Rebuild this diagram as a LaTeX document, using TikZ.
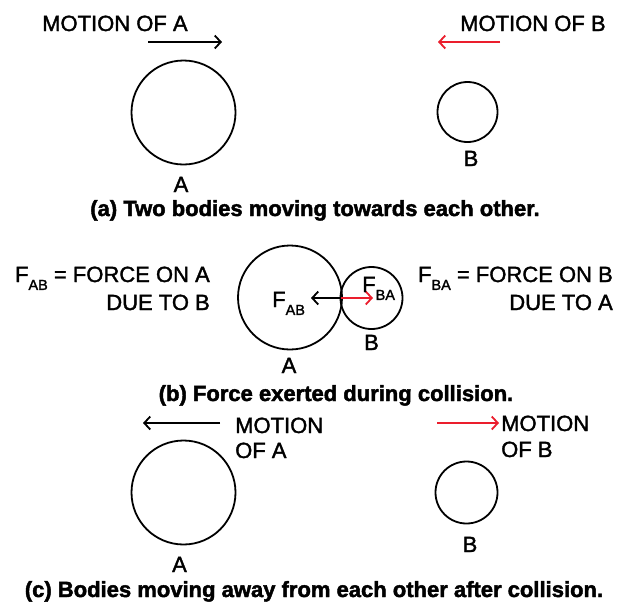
\documentclass[tikz,border=0pt]{standalone}
\usepackage{fontspec}
\setmainfont{Liberation Sans}
\newfontfamily\lblfont{Liberation Sans}[FakeBold=1.6]
\newfontfamily\capfont{Liberation Sans}[BoldFeatures={FakeBold=2}]
\usetikzlibrary{arrows.meta,shapes.geometric}
\definecolor{arrred}{RGB}{235,30,45}
\newcommand{\sbs}[1]{\raisebox{-0.36em}{\fontsize{14.5}{14.5}\selectfont #1}}
\begin{document}
\begin{tikzpicture}[x=1pt,y=-1pt,
  lbl/.style={font=\lblfont\fontsize{22}{26}\selectfont, inner sep=0},
  captxt/.style={font=\capfont\bfseries\fontsize{22}{26}\selectfont, inner sep=0},
  body/.style={draw, line width=1.8pt, circle, inner sep=0},
  mot/.style={line width=1.8pt, -{Straight Barb[length=6pt,width=13pt,line width=1.8pt]}},
  redmot/.style={mot, draw=arrred}]
\useasboundingbox[fill=white] (0,0) rectangle (629,603);

% ---------- panel (a)
\node[lbl, anchor=base west] (tma) at (42,31) {MOTION OF A};
\node[lbl, anchor=base west] (tmb) at (460,31) {MOTION OF B};
\coordinate (a1s) at (148,42);
\coordinate (a1e) at (222,42);
\draw[mot] (a1s) -- (a1e);
\coordinate (b1s) at (500,42);
\coordinate (b1e) at (438,42);
\draw[redmot] (b1s) -- (b1e);
\node[body, minimum size=104pt] (A1) at (183.5,112.5) {};
\node[body, minimum size=60pt] (B1) at (467.5,112) {};
\node[lbl, anchor=base] (la1) at (181,192) {A};
\node[lbl, anchor=base] (lb1) at (471,166) {B};
\node[captxt, anchor=base] (ca) at (315,216) {(a) Two bodies moving towards each other.};

% ---------- panel (b)
\node[lbl, anchor=base east] (fab1) at (210,282) {F\sbs{AB} = FORCE ON A};
\node[lbl, anchor=base east] (fab2) at (210,310) {DUE TO B};
\node[lbl, anchor=base east] (fba1) at (613,282) {F\sbs{BA} = FORCE ON B};
\node[lbl, anchor=base east] (fba2) at (613,310) {DUE TO A};
\node[body, minimum size=104pt] (A2) at (290,297.5) {};
\node[body, minimum size=62pt] (B2) at (371.5,298) {};
\coordinate (c2) at (341,298);
\coordinate (c2l) at (311,298);
\coordinate (c2r) at (373,298);
\draw[mot] (c2) -- (c2l);
\draw[redmot] (c2) -- (c2r);
\node[lbl, anchor=base west] (fin1) at (272,307) {F\sbs{AB}};
\node[lbl, anchor=base west] (fin2) at (362,292) {F\sbs{BA}};
\node[lbl, anchor=base] (lb2) at (371.5,350) {B};
\node[lbl, anchor=base] (la2) at (289,373) {A};
\node[captxt, anchor=base] (cb) at (336,401) {(b) Force exerted during collision.};

% ---------- panel (c)
\coordinate (a3s) at (220,423);
\coordinate (a3e) at (143,423);
\draw[mot] (a3s) -- (a3e);
\node[lbl, anchor=base west] (tma3) at (235,433) {MOTION};
\node[lbl, anchor=base west] (tma3b) at (235,458) {OF A};
\coordinate (b3s) at (437,423);
\coordinate (b3e) at (499,423);
\draw[redmot] (b3s) -- (b3e);
\node[lbl, anchor=base west] (tmb3) at (501,431) {MOTION};
\node[lbl, anchor=base west] (tmb3b) at (501,457) {OF B};
\node[body, minimum size=104pt] (A3) at (183.5,492.5) {};
\node[body, minimum size=62pt] (B3) at (466.5,492.5) {};
\node[lbl, anchor=base] (la3) at (179.5,572) {A};
\node[lbl, anchor=base] (lb3) at (470,552) {B};
\node[captxt, anchor=base] (cc) at (314,597) {(c) Bodies moving away from each other after collision.};
\end{tikzpicture}
\end{document}
